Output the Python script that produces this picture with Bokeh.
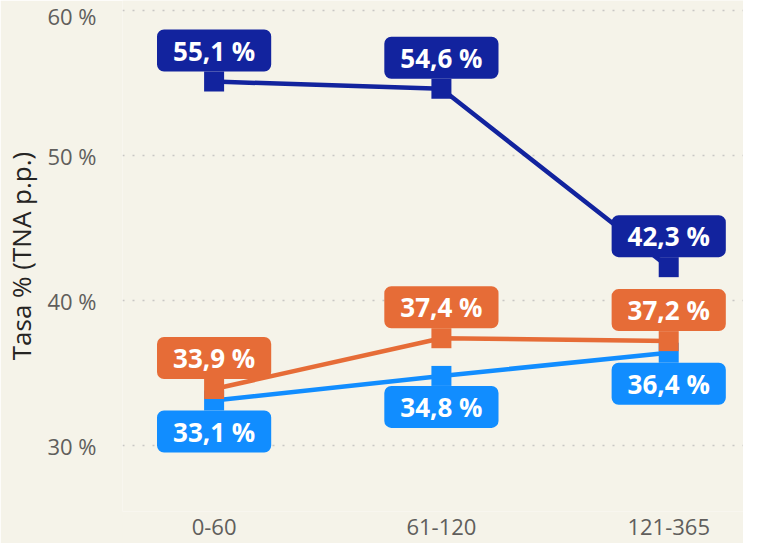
from bokeh.plotting import figure
from bokeh.models import ColumnDataSource, Range1d, FixedTicker
from bokeh.core.properties import value
from bokeh.embed import file_html
from bokeh.resources import INLINE

categories = ["0-60", "61-120", "121-365"]
dark_blue = [55.1, 54.6, 42.3]
orange = [33.9, 37.4, 37.2]
light_blue = [33.1, 34.8, 36.4]
y_ticks = [30, 40, 50, 60]

colors = {"dark": "#12239E", "orange": "#E66C37", "light": "#118DFF"}
label_side = {"dark": "above", "orange": "above", "light": "below"}
FONT = "Open Sans"
BG = "#F5F3E9"

p = figure(width=743, height=543, output_backend="svg", toolbar_location=None,
           x_range=Range1d(-0.403, 2.329), y_range=Range1d(25.45, 60.69),
           background_fill_color=BG, border_fill_color=BG,
           min_border_left=112, min_border_top=0, min_border_right=0, min_border_bottom=32)
p.outline_line_color = None
p.xgrid.grid_line_color = None
p.ygrid.grid_line_color = "#C8C6C4"
p.ygrid.grid_line_dash = "2 8"
p.ygrid.grid_line_width = 1.5

p.yaxis.ticker = FixedTicker(ticks=y_ticks)
p.yaxis.major_label_overrides = {t: f"{t} %" for t in y_ticks}
p.xaxis.ticker = FixedTicker(ticks=list(range(len(categories))))
p.xaxis.major_label_overrides = {i: c for i, c in enumerate(categories)}
for ax in (p.xaxis, p.yaxis):
    ax.axis_line_color = None
    ax.major_tick_line_color = None
    ax.minor_tick_line_color = None
    ax.major_label_text_font = FONT
    ax.major_label_text_font_size = "22px"
    ax.major_label_text_color = "#605E5C"
p.yaxis.major_label_standoff = 20
p.xaxis.major_label_standoff = 1
p.yaxis.axis_label = "Tasa % (TNA p.p.)"
p.yaxis.axis_label_text_font = FONT
p.yaxis.axis_label_text_font_size = "26px"
p.yaxis.axis_label_text_font_style = "normal"
p.yaxis.axis_label_text_color = "#252423"
p.yaxis.axis_label_standoff = 5

data = {"dark": dark_blue, "orange": orange, "light": light_blue}
xs = list(range(len(categories)))

def fmt(v):
    return f"{v:.1f} %".replace(".", ",")

for name in ["dark", "light", "orange"]:
    vals = data[name]
    src = ColumnDataSource(dict(x=xs, y=vals))
    p.line("x", "y", source=src, line_color=colors[name], line_width=4.5)
    p.scatter("x", "y", source=src, marker="square", size=20,
              fill_color=colors[name], line_color=None)

for name in ["dark", "light", "orange"]:
    vals = data[name]
    src = ColumnDataSource(dict(x=xs, y=vals, t=[fmt(v) for v in vals]))
    above = label_side[name] == "above"
    p.text("x", "y", text="t", source=src,
           anchor="bottom_center" if above else "top_center",
           y_offset=-10 if above else 10,
           text_font=value(FONT), text_font_size="26px", text_font_style="bold",
           text_color="white", padding=(16, 3),
           background_fill_color=colors[name], border_radius=7)

open("out.html", "w").write(file_html(p, INLINE))
